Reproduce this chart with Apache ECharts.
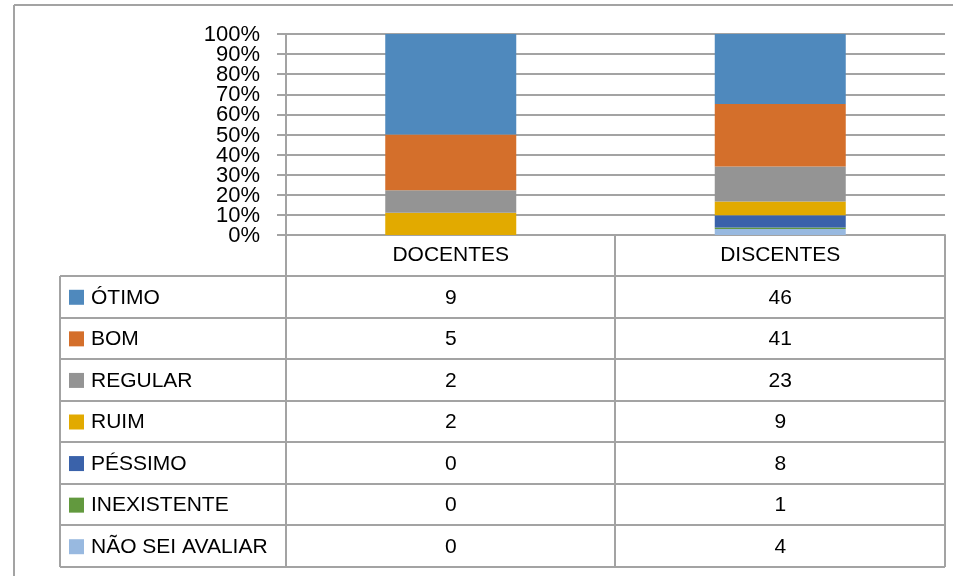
<!DOCTYPE html>
<html>
<head>
<meta charset="utf-8">
<script src="https://cdn.jsdelivr.net/npm/echarts@6/dist/echarts.min.js"></script>
<style>
  html, body { margin: 0; padding: 0; background: #fff; }
  #chart { width: 953px; height: 576px; }
</style>
</head>
<body>
<div id="chart"></div>
<script>
// dados da tabela
const categories = ["DOCENTES", "DISCENTES"];
const seriesNames = ["ÓTIMO", "BOM", "REGULAR", "RUIM", "PÉSSIMO", "INEXISTENTE", "NÃO SEI AVALIAR"];
const docentes = [9, 5, 2, 2, 0, 0, 0];
const discentes = [46, 41, 23, 9, 8, 1, 4];
const yTicks = [0, 10, 20, 30, 40, 50, 60, 70, 80, 90, 100];

const colors = ["#4f89bd", "#d46f2b", "#949494", "#e2aa00", "#3a62aa", "#62993e", "#98b9e0"];
const lineColor = "#a3a3a3";
const font = "'Liberation Sans', Arial, sans-serif";

// layout
const G = { left: 286, right: 945, top: 34, bottom: 235 };
const tableLeft = 60;
const headerBottom = 276;
const tableBottom = 567;
const rowH = (tableBottom - headerBottom) / seriesNames.length;

const totals = [docentes, discentes].map((a) => a.reduce((s, v) => s + v, 0));

// empilhamento de baixo para cima: último item da tabela fica embaixo
let series = [];
for (let i = seriesNames.length - 1; i >= 0; i--) {
  series.push({
    name: seriesNames[i],
    type: "bar",
    stack: "total",
    barWidth: 131,
    itemStyle: { color: colors[i] },
    data: [(docentes[i] / totals[0]) * 100, (discentes[i] / totals[1]) * 100],
  });
}

const eChart = echarts.init(document.getElementById("chart"));
eChart.setOption({
  animation: false,
  grid: {
    left: G.left,
    right: 953 - G.right,
    top: G.top,
    bottom: 576 - G.bottom,
  },
  xAxis: {
    type: "category",
    data: categories,
    axisLine: { lineStyle: { color: lineColor, width: 2 } },
    axisTick: { show: false },
    axisLabel: {
      margin: 10,
      color: "#000",
      fontFamily: font,
      fontSize: 21,
    },
  },
  yAxis: {
    type: "value",
    min: 0,
    max: 100,
    interval: 10,
    axisLine: { show: true, lineStyle: { color: lineColor, width: 2 } },
    axisTick: { show: true, length: 9, lineStyle: { color: lineColor, width: 2 } },
    splitLine: { lineStyle: { color: lineColor, width: 2 } },
    // os rótulos se sobrepõem (como no Excel), então são desenhados à parte
    axisLabel: { show: false },
  },
  series: series,
});

function drawExtras() {
  let els = [];
  const line = (x1, y1, x2, y2) => ({
    type: "line",
    shape: { x1, y1, x2, y2 },
    style: { stroke: lineColor, lineWidth: 2 },
    silent: true,
  });

  // rótulos do eixo Y
  yTicks.forEach((t) => {
    let y = eChart.convertToPixel({ yAxisIndex: 0 }, t);
    els.push({
      type: "text",
      x: 260,
      y: y + 1,
      style: {
        text: t + "%",
        fill: "#000",
        font: "22px " + font,
        align: "right",
        verticalAlign: "middle",
      },
    });
  });

  // moldura externa
  els.push(line(14, 5, 953, 5));
  els.push(line(14, 5, 14, 576));

  // verticais da tabela
  els.push(line(G.left, G.bottom, G.left, tableBottom));
  els.push(line(615, G.bottom, 615, tableBottom));
  els.push(line(G.right, G.bottom, G.right, tableBottom));
  els.push(line(tableLeft, headerBottom, tableLeft, tableBottom));

  // horizontais
  for (let r = 0; r <= seriesNames.length; r++) {
    let y = Math.round(headerBottom + r * rowH);
    els.push(line(tableLeft, y, G.right, y));
  }

  const centers = categories.map((c) => eChart.convertToPixel({ xAxisIndex: 0 }, c));
  const cols = [docentes, discentes];

  seriesNames.forEach((name, i) => {
    let cy = headerBottom + (i + 0.5) * rowH + 1;
    els.push({
      type: "rect",
      shape: { x: 69, y: cy - 8, width: 15, height: 15 },
      style: { fill: colors[i] },
    });
    els.push({
      type: "text",
      x: 91,
      y: cy,
      style: {
        text: name,
        fill: "#000",
        font: "21px " + font,
        verticalAlign: "middle",
        align: "left",
      },
    });
    cols.forEach((col, k) => {
      els.push({
        type: "text",
        x: centers[k],
        y: cy,
        style: {
          text: String(col[i]),
          fill: "#000",
          font: "21px " + font,
          verticalAlign: "middle",
          align: "center",
        },
      });
    });
  });

  eChart.setOption({ graphic: els });
}
drawExtras();
</script>
</body>
</html>
